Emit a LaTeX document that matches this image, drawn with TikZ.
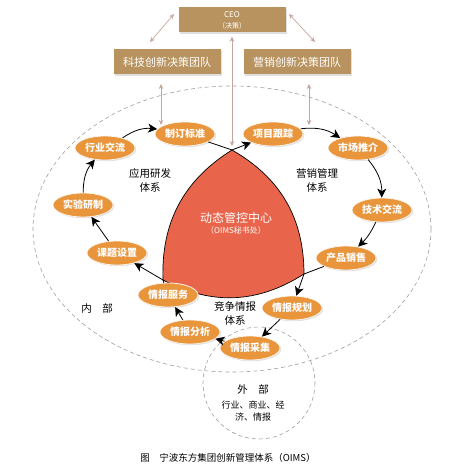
\documentclass[tikz,border=0pt]{standalone}
\usepackage{fontspec}
\setmainfont{Noto Sans CJK SC}
\usetikzlibrary{arrows.meta,shapes.geometric,shadows}
\definecolor{boxbrown}{HTML}{B8935F}
\definecolor{linkpink}{HTML}{C4A59C}
\definecolor{stageorange}{HTML}{E8953C}
\definecolor{corered}{HTML}{E8654B}
\definecolor{dashgray}{HTML}{A69C9C}
\begin{document}
\begin{tikzpicture}[x=1pt,y=-1pt,
  team/.style={fill=boxbrown,text=white,minimum width=107pt,minimum height=25pt,inner sep=0pt,
    font=\fontsize{11}{13}\selectfont,drop shadow={opacity=0.25,shadow xshift=1.5pt,shadow yshift=-1.5pt}},
  stage/.style={ellipse,fill=stageorange,draw=white!90!stageorange,line width=0.8pt,text=white,
    minimum width=60pt,minimum height=24pt,inner sep=0pt,font=\fontsize{10}{12}\selectfont\bfseries,
    drop shadow={opacity=0.25,shadow xshift=1.2pt,shadow yshift=-1.2pt}},
  sysname/.style={align=center,font=\fontsize{10.5}{14}\selectfont},
  flow/.style={draw=black,line width=0.8pt,-{Stealth[length=9pt,width=9pt,inset=2.5pt]}},
  link/.style={draw=linkpink,line width=0.7pt,{Stealth[length=5pt,width=4.5pt]}-{Stealth[length=5pt,width=4.5pt]}},
  zone/.style={draw=dashgray,line width=0.6pt,dash pattern=on 4pt off 3pt}]
\useasboundingbox (0,0) rectangle (456,468);

\draw[zone] (232,229) ellipse [x radius=199, y radius=143];
\draw[zone] (259,383) circle [radius=56];

\coordinate (rt) at (232,150);
\coordinate (rl) at (163,280);
\coordinate (rr) at (304,274);
\draw[fill=corered,line width=0.7pt] (rt) to[bend right=30] (rl) to[bend right=30] (rr) to[bend right=30] cycle;
\node (dt) at (236,223) [align=center,text=white] {{\fontsize{12}{14}\selectfont 动态管控中心}\\[-1pt]{\fontsize{8}{10}\selectfont （OIMS秘书处）}};

\node[team] (ceo) at (232,20) {\begin{tabular}{@{}c@{}}{\fontsize{8}{9}\selectfont CEO}\\[-2pt]{\fontsize{7}{8}\selectfont （决策）}\end{tabular}};
\node[team] (tl) at (167,62) {科技创新决策团队};
\node[team] (tr) at (297,62) {营销创新决策团队};

\node[stage] (hy) at (105,148) {行业交流};
\node[stage] (zd) at (185,134) {制订标准};
\node[stage] (sy) at (83,205) {实验研制};
\node[stage] (kt) at (117,253) {课题设置};
\node[stage] (xm) at (273,134) {项目跟踪};
\node[stage] (sc) at (358,148) {市场推介};
\node[stage] (js) at (382,210) {技术交流};
\node[stage] (cp) at (346,258) {产品销售};
\node[stage] (qfw) at (168,295) {情报服务};
\node[stage] (qgh) at (292,308) {情报规划};
\node[stage] (qfx) at (190,332) {情报分析};
\node[stage] (qcj) at (250,348) {情报采集};

\node[sysname] (yy) at (150,180) {应用研发\\体系};
\node[sysname] (yx) at (317,180) {营销管理\\体系};
\node[sysname] (jz) at (235,313) {竞争情报\\体系};
\node[sysname] (nb) at (97,308) {内\quad 部};
\node[sysname] (wb) at (253,389) {外\quad 部};
\node[align=center,font=\fontsize{9}{12.5}\selectfont] (wbt) at (253,411) {行业、商业、经\\济、情报};
\node[font=\fontsize{9.5}{11}\selectfont] (cap) at (228,458) {图\quad 宁波东方集团创新管理体系（OIMS）};

\coordinate (c1) at (174,14);
\coordinate (c2) at (150,42);
\coordinate (c3) at (289,14);
\coordinate (c4) at (315,42);
\coordinate (la) at (161,84);
\coordinate (lz) at (161,125);
\coordinate (ra) at (309,84);
\coordinate (rz) at (309,125);
\draw[link] (c1) -- (c2);
\draw[link] (c3) -- (c4);
\draw[link] (la) -- (lz);
\draw[link] (ra) -- (rz);
\draw[link,shorten <=4pt,shorten >=4pt] (ceo.south) -- (rt);

\draw[flow] (kt) -- (sy);
\draw[flow] (sy) to[bend left=20] (hy);
\draw[flow] (hy) to[bend left=20] (zd);
\draw[flow] (zd) -- (rt) -- (xm);
\draw[flow] (xm) to[bend left=20] (sc);
\draw[flow] (sc) to[bend left=20] (js);
\draw[flow] (js) to[bend left=10] (cp);
\draw[flow] (cp) -- (rr) -- (qgh);
\draw[flow] (qgh) -- (qcj);
\draw[flow] (qcj) -- (qfx);
\draw[flow] (qfx) -- (qfw);
\draw[flow] (qfw) -- (rl) -- (kt);
\end{tikzpicture}
\end{document}
